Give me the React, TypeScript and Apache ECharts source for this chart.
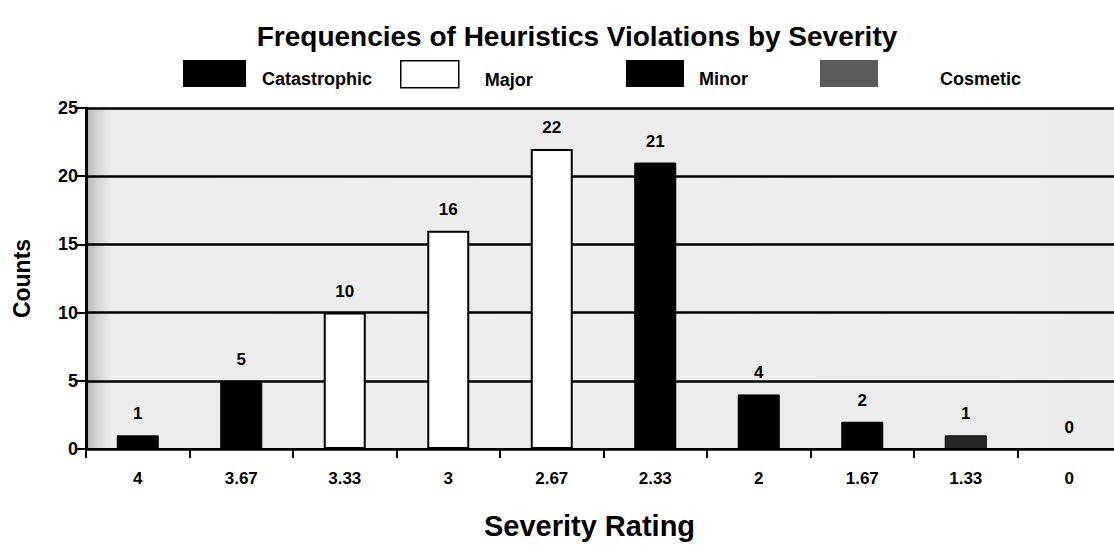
import React, { useEffect, useRef } from "react";
import * as echarts from "echarts";

const categories = ["4", "3.67", "3.33", "3", "2.67", "2.33", "2", "1.67", "1.33", "0"];
const counts = [1, 5, 10, 16, 22, 21, 4, 2, 1, 0];
const severityGroup = [
  "Catastrophic", "Catastrophic", "Major", "Major", "Major",
  "Minor", "Minor", "Minor", "Cosmetic", "Cosmetic",
];
const seriesNames = ["Catastrophic", "Major", "Minor", "Cosmetic"];
const yTicks = [0, 5, 10, 15, 20, 25];

const FONT = "'Liberation Sans Narrow', 'Arial Narrow', 'Liberation Sans', Arial, sans-serif";

const seriesStyle: Record<string, any> = {
  Catastrophic: { color: "#000000", borderColor: "#000000", borderWidth: 1 },
  Major: { color: "#ffffff", borderColor: "#000000", borderWidth: 2 },
  Minor: { color: "#000000", borderColor: "#000000", borderWidth: 1 },
  Cosmetic: { color: "#262626", borderColor: "#000000", borderWidth: 1 },
};

const legendColor: Record<string, string> = {
  Catastrophic: "#000000",
  Major: "#ffffff",
  Minor: "#000000",
  Cosmetic: "#5a5a5a",
};

const legendPos: Record<string, number> = {
  Catastrophic: 178,
  Major: 395,
  Minor: 621,
  Cosmetic: 815,
};

const legendTextPad: Record<string, number> = {
  Catastrophic: 11,
  Major: 21,
  Minor: 10,
  Cosmetic: 57,
};

export default function App() {
  const ref = useRef<HTMLDivElement>(null);
  useEffect(() => {
    if (!ref.current) return;
    document.documentElement.style.overflow = "hidden";
    document.body.style.overflow = "hidden";
    const chart = echarts.init(ref.current, undefined, { renderer: "svg" });
    const series = seriesNames.map((name) => ({
      name,
      type: "bar",
      stack: "total",
      barWidth: 42,
      data: counts.map((v, i) => (severityGroup[i] === name ? v : "-")),
      itemStyle: seriesStyle[name],
      label: {
        show: true,
        position: "top",
        distance: 13,
        fontFamily: FONT,
        fontWeight: "bold",
        fontSize: 17,
        color: "#000",
      },
    }));
    chart.setOption({
      animation: false,
      backgroundColor: "#ffffff",
      title: {
        text: "Frequencies of Heuristics Violations by Severity",
        left: 572,
        textAlign: "center",
        top: 17,
        textStyle: { fontFamily: FONT, fontWeight: "bold", fontSize: 28, color: "#000" },
      },
      legend: seriesNames.map((name) => ({
        data: [
          {
            name,
            itemStyle: {
              color: legendColor[name],
              borderColor: "#000",
              borderWidth: name === "Major" ? 1.5 : 0,
            },
          },
        ],
        left: legendPos[name],
        top: 55,
        itemWidth: name === "Catastrophic" ? 63 : 58,
        itemHeight: 27,
        itemGap: 0,
        icon: "rect",
        selectedMode: false,
        formatter: (n: string) => "{t|" + n + "}",
        textStyle: {
          fontFamily: FONT,
          fontWeight: "bold",
          fontSize: 18,
          color: "#000",
          rich: {
            t: {
              fontFamily: FONT,
              fontWeight: "bold",
              fontSize: 18,
              color: "#000",
              padding: [11, 0, 0, legendTextPad[name]],
            },
          },
        },
      })),
      grid: {
        left: 86,
        top: 108,
        width: 1035,
        height: 341,
        outerBoundsMode: "none",
        containLabel: false,
        show: true,
        backgroundColor: new echarts.graphic.LinearGradient(0, 0, 1, 0, [
          { offset: 0, color: "#b5b5b5" },
          { offset: 0.01, color: "#d2d2d2" },
          { offset: 0.025, color: "#ededed" },
          { offset: 1, color: "#ececec" },
        ]),
        borderWidth: 0,
      },
      xAxis: {
        type: "category",
        data: categories,
        name: "Severity Rating",
        nameLocation: "middle",
        nameGap: 62,
        nameTextStyle: {
          fontFamily: FONT,
          fontWeight: "bold",
          fontSize: 29,
          color: "#000",
          padding: [0, 28, 0, 0],
        },
        axisLine: { show: true, lineStyle: { color: "#000", width: 2 } },
        axisTick: { show: true, length: 9, lineStyle: { color: "#000", width: 2 } },
        axisLabel: {
          fontFamily: FONT,
          fontWeight: "bold",
          fontSize: 17,
          color: "#000",
          margin: 21,
        },
      },
      yAxis: {
        type: "value",
        min: 0,
        max: 25,
        interval: 5,
        name: "Counts",
        nameLocation: "middle",
        nameGap: 53,
        nameTextStyle: { fontFamily: FONT, fontWeight: "bold", fontSize: 23, color: "#000" },
        axisLine: { show: true, lineStyle: { color: "#000", width: 3 } },
        axisTick: { show: true, length: 10, lineStyle: { color: "#000", width: 2 } },
        axisLabel: {
          fontFamily: FONT,
          fontWeight: "bold",
          fontSize: 18,
          color: "#000",
          margin: 8,
          formatter: (v: number) => (yTicks.includes(v) ? String(v) : ""),
        },
        splitLine: { show: true, lineStyle: { color: "#000", width: 2.5 } },
      },
      series,
    });
    return () => chart.dispose();
  }, []);
  return (
    <div
      ref={ref}
      style={{ position: "absolute", left: 0, top: 0, width: 1125, height: 546 }}
    />
  );
}
